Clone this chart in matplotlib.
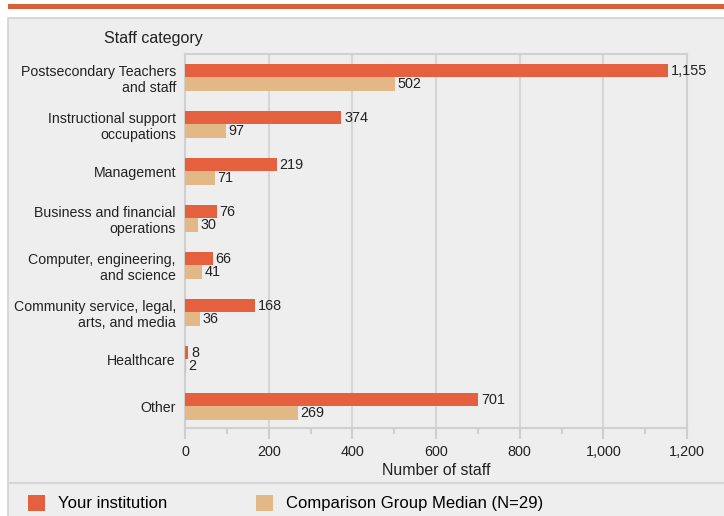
import matplotlib
matplotlib.use("Agg")
import matplotlib.pyplot as plt
from matplotlib.patches import Rectangle
from matplotlib.lines import Line2D
from matplotlib.ticker import FuncFormatter, MultipleLocator
import numpy as np

plt.rcParams['font.family'] = ['Liberation Sans', 'DejaVu Sans']

categories = ["Postsecondary Teachers\nand staff",
              "Instructional support\noccupations",
              "Management",
              "Business and financial\noperations",
              "Computer, engineering,\nand science",
              "Community service, legal,\narts, and media",
              "Healthcare",
              "Other"]
your_inst = [1155, 374, 219, 76, 66, 168, 8, 701]
comparison = [502, 97, 71, 30, 41, 36, 2, 269]
series_names = ["Your institution", "Comparison Group Median (N=29)"]

red = "#e4603f"
tan = "#e2b886"
W, H = 724, 516

fig = plt.figure(figsize=(W / 100, H / 100), dpi=100)
fig.patch.set_facecolor("white")

# grey panel and top stripe
fig.patches.append(Rectangle((8 / W, -0.01), 1, (H - 18) / H + 0.01, transform=fig.transFigure,
                             facecolor="#eeeeee", edgecolor="#d2d2d2", lw=1.2, zorder=-2))
fig.patches.append(Rectangle((8 / W, (H - 9) / H), 1, 5 / H, transform=fig.transFigure,
                             facecolor="#d9603b", edgecolor="none", zorder=-2))
fig.lines.append(Line2D([8 / W, 1], [1 - 483 / H] * 2, transform=fig.transFigure,
                        color="#d6d6d6", lw=1.5, zorder=-1))

ax = fig.add_axes([185 / W, 1 - 428 / H, (687 - 185) / W, (428 - 54) / H])
ax.set_facecolor("#eeeeee")

y = np.arange(len(categories))
h = 0.28
b1 = ax.barh(y - h / 2, your_inst, height=h, color=red, label=series_names[0], zorder=3)
b2 = ax.barh(y + h / 2, comparison, height=h, color=tan, label=series_names[1], zorder=3)

for bars, vals in [(b1, your_inst), (b2, comparison)]:
    for bar, v in zip(bars, vals):
        ax.annotate(f"{v:,}", (bar.get_width(), bar.get_y() + bar.get_height() / 2),
                    xytext=(2, 0), textcoords="offset points", va="center", ha="left",
                    fontsize=10.4, color="#222222")

ax.set_xlim(0, 1200)
ax.set_ylim(7.46, -0.5)
ax.set_yticks(y)
ax.set_yticklabels(categories, fontsize=10.2, color="#222222")
ax.tick_params(axis="y", length=0, pad=6.5)
ax.xaxis.set_major_locator(MultipleLocator(200))
ax.xaxis.set_minor_locator(MultipleLocator(100))
ax.xaxis.set_major_formatter(FuncFormatter(lambda v, p: f"{int(v):,}"))
ax.tick_params(axis="x", which="major", length=8, width=1.5, color="#cfcfcf",
               labelsize=10.4, labelcolor="#222222", pad=4)
ax.tick_params(axis="x", which="minor", length=4, width=1.5, color="#cfcfcf")
ax.grid(axis="x", color="#d6d6d6", lw=1.5, zorder=0)
for s in ["left", "bottom", "top", "right"]:
    ax.spines[s].set_color("#d0d0d0")
    ax.spines[s].set_linewidth(1.5)

ax.set_xlabel("Number of staff", fontsize=11.4, color="#222222", labelpad=3)
fig.text(104 / W, 1 - 38 / H, "Staff category", fontsize=11.5, color="#222222", va="center")

fig.legend(handles=[b1, b2], labels=series_names, loc="center left",
           bbox_to_anchor=(13 / W, 1 - 503 / H), ncol=2, frameon=False, fontsize=12,
           handlelength=1.0, handleheight=1.1, handletextpad=0.78, columnspacing=5.35)

fig.savefig("out.png", dpi=100, facecolor=fig.get_facecolor())
